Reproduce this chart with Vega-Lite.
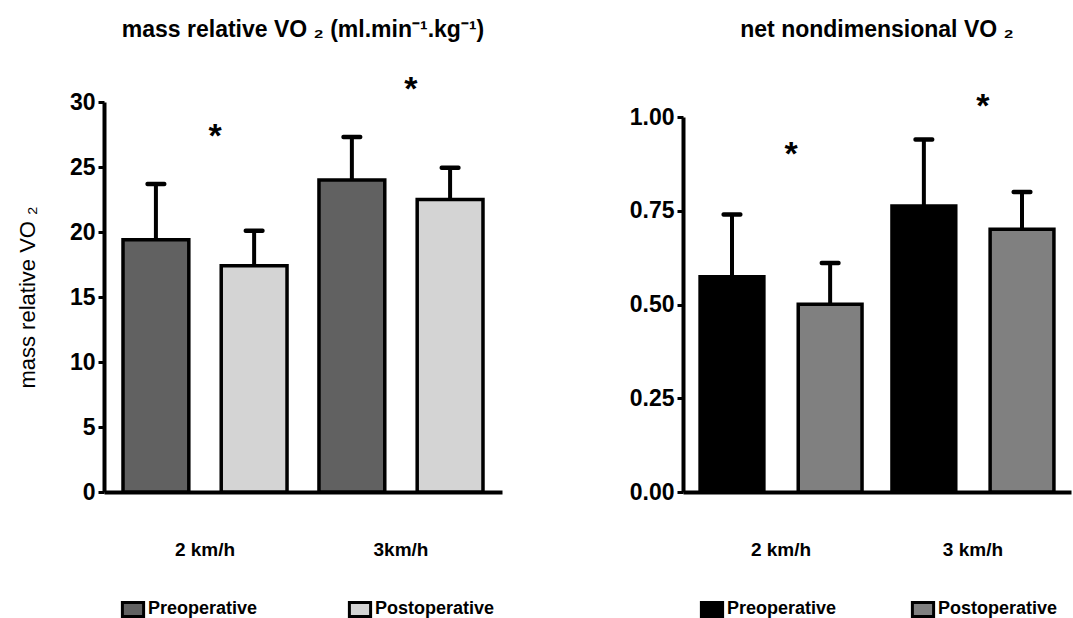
{
  "$schema": "https://vega.github.io/schema/vega-lite/v6.json",
  "padding": {"left": 16, "top": 18, "right": 2, "bottom": 2},
  "background": "white",
  "config": {
    "font": "Liberation Sans",
    "view": {"stroke": null},
    "axis": {"domainColor": "black", "domainWidth": 4, "tickColor": "black", "labelColor": "black", "titleColor": "black"},
    "title": {"fontSize": 23, "fontWeight": "bold", "color": "black", "anchor": "middle"},
    "legend": {"orient": "none", "direction": "horizontal", "title": null, "symbolType": "M-1.5,-1L1.5,-1L1.5,1L-1.5,1Z", "symbolSize": 200, "symbolStrokeColor": "black", "symbolStrokeWidth": 3, "symbolOpacity": 1, "labelFontSize": 18, "labelFontWeight": "bold", "labelColor": "black", "labelOffset": 6}
  },
  "spacing": 127,
  "hconcat": [
    {
      "width": 398,
      "height": 390,
      "title": {"text": "mass relative VO ₂ (ml.min⁻¹.kg⁻¹)", "offset": 31},
      "data": {"values": [
        {"speed": "2 km/h", "group": "Preoperative", "value": 19.4, "upper": 23.7},
        {"speed": "2 km/h", "group": "Postoperative", "value": 17.4, "upper": 20.1},
        {"speed": "3km/h", "group": "Preoperative", "value": 24.0, "upper": 27.3},
        {"speed": "3km/h", "group": "Postoperative", "value": 22.5, "upper": 24.95}
      ]},
      "layer": [
        {"mark": {"type": "rule", "strokeWidth": 4, "color": "black"},
          "encoding": {
            "x": {"field": "speed", "type": "nominal", "sort": null,
              "scale": {"paddingInner": 0.163, "paddingOuter": 0.097},
              "axis": {"title": null, "ticks": false, "labelAngle": 0, "labelPadding": 48, "labelFontSize": 19, "labelFontWeight": "bold"}},
            "xOffset": {"field": "group", "type": "nominal", "sort": ["Preoperative", "Postoperative"], "scale": {"paddingInner": 0.33, "paddingOuter": 0}},
            "y": {"field": "value", "type": "quantitative"}, "y2": {"field": "upper"}}},
        {"mark": {"type": "tick", "size": 21, "thickness": 4.5, "color": "black", "cornerRadius": 2, "opacity": 1},
          "encoding": {
            "x": {"field": "speed", "type": "nominal", "sort": null},
            "xOffset": {"field": "group", "type": "nominal", "sort": ["Preoperative", "Postoperative"]},
            "y": {"field": "upper", "type": "quantitative"}}},
        {"mark": {"type": "bar", "stroke": "black", "strokeWidth": 3.5},
          "encoding": {
            "x": {"field": "speed", "type": "nominal", "sort": null},
            "xOffset": {"field": "group", "type": "nominal", "sort": ["Preoperative", "Postoperative"]},
            "y": {"field": "value", "type": "quantitative", "scale": {"domain": [0, 30], "nice": false},
              "axis": {"values": [0, 5, 10, 15, 20, 25, 30], "grid": false, "labelFontSize": 23, "labelFontWeight": "bold", "tickSize": 6, "tickWidth": 3, "labelPadding": 3,
                "title": "mass relative VO ₂", "titleFontSize": 22, "titleFontWeight": "normal", "titlePadding": 30}},
            "color": {"field": "group", "type": "nominal", "sort": ["Preoperative", "Postoperative"],
              "scale": {"domain": ["Preoperative", "Postoperative"], "range": ["#616161", "#d4d4d4"]},
              "legend": {"columnPadding": 85, "legendX": 20, "legendY": 498}}
          }},
        {"data": {"values": [
            {"speed": "2 km/h", "y": 27.7, "label": "*"},
            {"speed": "3km/h", "y": 31.3, "label": "*"}
          ]},
          "mark": {"type": "text", "fontSize": 34, "fontWeight": "bold", "baseline": "middle", "dx": 10, "dy": 5, "color": "black"},
          "encoding": {"x": {"field": "speed", "type": "nominal", "sort": null}, "y": {"field": "y", "type": "quantitative"}, "text": {"field": "label"}}}
      ],
      "resolve": {"scale": {"color": "independent"}}
    },
    {
      "width": 388,
      "height": 390,
      "title": {"text": "net nondimensional VO ₂", "offset": 48},
      "data": {"values": [
        {"speed": "2 km/h", "group": "Preoperative", "value": 0.574, "upper": 0.74},
        {"speed": "2 km/h", "group": "Postoperative", "value": 0.501, "upper": 0.611},
        {"speed": "3 km/h", "group": "Preoperative", "value": 0.763, "upper": 0.94},
        {"speed": "3 km/h", "group": "Postoperative", "value": 0.701, "upper": 0.80}
      ]},
      "layer": [
        {"mark": {"type": "rule", "strokeWidth": 4, "color": "black"},
          "encoding": {
            "x": {"field": "speed", "type": "nominal", "sort": null,
              "scale": {"paddingInner": 0.156, "paddingOuter": 0.089},
              "axis": {"title": null, "ticks": false, "labelAngle": 0, "labelPadding": 48, "labelFontSize": 19, "labelFontWeight": "bold"}},
            "xOffset": {"field": "group", "type": "nominal", "sort": ["Preoperative", "Postoperative"], "scale": {"paddingInner": 0.35, "paddingOuter": 0}},
            "y": {"field": "value", "type": "quantitative"}, "y2": {"field": "upper"}}},
        {"mark": {"type": "tick", "size": 21, "thickness": 4.5, "color": "black", "cornerRadius": 2, "opacity": 1},
          "encoding": {
            "x": {"field": "speed", "type": "nominal", "sort": null},
            "xOffset": {"field": "group", "type": "nominal", "sort": ["Preoperative", "Postoperative"]},
            "y": {"field": "upper", "type": "quantitative"}}},
        {"mark": {"type": "bar", "stroke": "black", "strokeWidth": 3.5},
          "encoding": {
            "x": {"field": "speed", "type": "nominal", "sort": null},
            "xOffset": {"field": "group", "type": "nominal", "sort": ["Preoperative", "Postoperative"]},
            "y": {"field": "value", "type": "quantitative", "scale": {"domain": [0, 1], "nice": false, "range": [390, 15]},
              "axis": {"values": [0, 0.25, 0.5, 0.75, 1], "format": ".2f", "grid": false, "labelFontSize": 23, "labelFontWeight": "bold", "tickSize": 6, "tickWidth": 3, "labelPadding": 3, "title": null}},
            "color": {"field": "group", "type": "nominal", "sort": ["Preoperative", "Postoperative"],
              "scale": {"domain": ["Preoperative", "Postoperative"], "range": ["#000000", "#808080"]},
              "legend": {"columnPadding": 69, "legendX": 20, "legendY": 498}}
          }},
        {"data": {"values": [
            {"speed": "2 km/h", "y": 0.912, "label": "*"},
            {"speed": "3 km/h", "y": 1.04, "label": "*"}
          ]},
          "mark": {"type": "text", "fontSize": 34, "fontWeight": "bold", "baseline": "middle", "dx": 10, "dy": 5, "color": "black"},
          "encoding": {"x": {"field": "speed", "type": "nominal", "sort": null}, "y": {"field": "y", "type": "quantitative"}, "text": {"field": "label"}}}
      ],
      "resolve": {"scale": {"color": "independent"}}
    }
  ],
  "resolve": {"scale": {"color": "independent", "y": "independent", "x": "independent", "xOffset": "independent"}}
}
